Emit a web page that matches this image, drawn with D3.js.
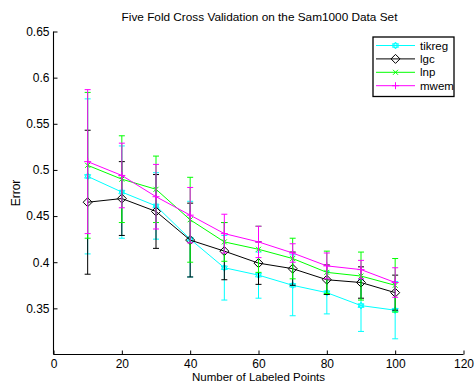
<!DOCTYPE html>
<html>
<head>
<meta charset="utf-8">
<script src="https://cdn.jsdelivr.net/npm/d3@7"></script>
<style>
  html, body { margin: 0; padding: 0; background: #fff; }
  text { font-family: "Liberation Sans", Arial, sans-serif; fill: #000; }
</style>
</head>
<body>
<svg id="chart" width="476" height="386"></svg>
<script>
// Labeled-point counts along the x axis
const labeledPoints = [10, 20, 30, 40, 50, 60, 70, 80, 90, 100];

// Mean error and error-bar half width for each method
const tikregMean = [0.493, 0.476, 0.461, 0.425, 0.394, 0.386, 0.375, 0.367, 0.353, 0.348];
const tikregErr  = [0.084, 0.050, 0.036, 0.041, 0.035, 0.025, 0.033, 0.023, 0.028, 0.031];
const lgcMean    = [0.465, 0.469, 0.455, 0.424, 0.412, 0.399, 0.393, 0.381, 0.378, 0.367];
const lgcErr     = [0.078, 0.040, 0.040, 0.040, 0.031, 0.023, 0.018, 0.016, 0.017, 0.019];
const lnpMean    = [0.505, 0.490, 0.479, 0.446, 0.422, 0.414, 0.404, 0.389, 0.385, 0.375];
const lnpErr     = [0.079, 0.047, 0.036, 0.046, 0.021, 0.025, 0.022, 0.023, 0.026, 0.029];
const mwemMean   = [0.509, 0.494, 0.471, 0.451, 0.431, 0.422, 0.410, 0.396, 0.392, 0.378];
const mwemErr    = [0.078, 0.035, 0.035, 0.030, 0.021, 0.017, 0.010, 0.014, 0.010, 0.016];

const seriesNames = ["tikreg", "lgc", "lnp", "mwem"];
const xTicks = [0, 20, 40, 60, 80, 100, 120];
const yTicks = [0.35, 0.4, 0.45, 0.5, 0.55, 0.6, 0.65];

const chartTitle = "Five Fold Cross Validation on the Sam1000 Data Set";
const xLabel = "Number of Labeled Points";
const yLabel = "Error";

const series = [
  { name: seriesNames[0], mean: tikregMean, err: tikregErr, color: "#00ffff", marker: "hexagram" },
  { name: seriesNames[1], mean: lgcMean,    err: lgcErr,    color: "#000000", marker: "diamond" },
  { name: seriesNames[2], mean: lnpMean,    err: lnpErr,    color: "#00ff00", marker: "cross" },
  { name: seriesNames[3], mean: mwemMean,   err: mwemErr,   color: "#ff00ff", marker: "plus" }
];

const svg = d3.select("#chart");
const plotLeft = 53.5, plotRight = 463.5, plotTop = 31.5, plotBottom = 354.5;

const x = d3.scaleLinear().domain([0, 120]).range([plotLeft, plotRight]);
const y = d3.scaleLinear().domain([0.3, 0.65]).range([plotBottom, plotTop]);

// Title
svg.append("text")
  .attr("x", 259.5)
  .attr("y", 21)
  .attr("text-anchor", "middle")
  .style("font-size", "11.8px")
  .text(chartTitle);

// Axes with inward ticks
const xAxis = d3.axisBottom(x).tickValues(xTicks).tickSize(-4).tickPadding(4.5).tickFormat(d3.format("d"));
const yAxis = d3.axisLeft(y).tickValues(yTicks).tickSize(-4).tickPadding(4).tickFormat(d => d3.format(".2~f")(d));

const gx = svg.append("g").attr("transform", `translate(0,${plotBottom})`).call(xAxis);
const gy = svg.append("g").attr("transform", `translate(${plotLeft},0)`).call(yAxis);
[gx, gy].forEach(g => {
  g.select(".domain").attr("stroke", "#000").attr("stroke-width", 1.1);
  g.selectAll(".tick line").attr("stroke", "#000");
  g.selectAll(".tick text").style("font-size", "12px").style("font-family", "Liberation Sans, Arial, sans-serif");
});
// plain domain lines without end stubs
gx.select(".domain").attr("d", `M${plotLeft},0H${plotRight}`);
gy.select(".domain").attr("d", `M0,${plotBottom}V${plotTop}`);

// Axis labels
svg.append("text")
  .attr("x", 258.5)
  .attr("y", 381)
  .attr("text-anchor", "middle")
  .style("font-size", "11.5px")
  .text(xLabel);

svg.append("text")
  .attr("transform", `translate(19.5,${(plotTop + plotBottom) / 2}) rotate(-90)`)
  .attr("text-anchor", "middle")
  .style("font-size", "12px")
  .text(yLabel);

// Marker path generators
function markerPath(type) {
  switch (type) {
    case "diamond": return "M0,-4.5L4.5,0L0,4.5L-4.5,0Z";
    case "cross": return "M-2.5,-2.5L2.5,2.5M-2.5,2.5L2.5,-2.5";
    case "plus": return "M-3.5,0H3.5M0,-3.5V3.5";
    case "hexagram": {
      const r = 3.5, pts1 = [], pts2 = [];
      for (let i = 0; i < 3; i++) {
        const a1 = -Math.PI / 2 + i * 2 * Math.PI / 3;
        const a2 = Math.PI / 2 + i * 2 * Math.PI / 3;
        pts1.push([r * Math.cos(a1), r * Math.sin(a1)]);
        pts2.push([r * Math.cos(a2), r * Math.sin(a2)]);
      }
      const tri = p => "M" + p.map(q => q[0].toFixed(2) + "," + q[1].toFixed(2)).join("L") + "Z";
      return tri(pts1) + tri(pts2);
    }
  }
}

const line = d3.line().x(d => x(d.x)).y(d => y(d.m));

series.forEach(s => {
  const pts = labeledPoints.map((v, i) => ({ x: v, m: s.mean[i], e: s.err[i] }));
  const g = svg.append("g");

  // Error bars
  const eb = g.selectAll(".eb").data(pts).enter().append("g");
  eb.append("line")
    .attr("x1", d => x(d.x)).attr("x2", d => x(d.x))
    .attr("y1", d => y(d.m - d.e)).attr("y2", d => y(d.m + d.e))
    .attr("stroke", s.color).attr("stroke-width", 1);
  [-1, 1].forEach(sign => {
    eb.append("line")
      .attr("x1", d => x(d.x) - 3).attr("x2", d => x(d.x) + 3)
      .attr("y1", d => y(d.m + sign * d.e)).attr("y2", d => y(d.m + sign * d.e))
      .attr("stroke", s.color).attr("stroke-width", 1);
  });

  // Connecting line
  g.append("path").datum(pts)
    .attr("d", line)
    .attr("fill", "none")
    .attr("stroke", s.color)
    .attr("stroke-width", 1);

  // Markers
  g.selectAll(".mk").data(pts).enter().append("path")
    .attr("transform", d => `translate(${x(d.x)},${y(d.m)})`)
    .attr("d", markerPath(s.marker))
    .attr("fill", "none")
    .attr("stroke", s.color)
    .attr("stroke-width", 1);
});

// Legend
const lg = svg.append("g");
lg.append("rect")
  .attr("x", 373).attr("y", 37).attr("width", 81).attr("height", 59.5)
  .attr("fill", "#fff").attr("stroke", "#000").attr("stroke-width", 1.3);
series.forEach((s, i) => {
  const ry = 45.5 + i * 13.4;
  lg.append("line").attr("x1", 376).attr("x2", 415).attr("y1", ry).attr("y2", ry)
    .attr("stroke", s.color).attr("stroke-width", 1);
  lg.append("path").attr("transform", `translate(395.5,${ry})`)
    .attr("d", markerPath(s.marker))
    .attr("fill", "none").attr("stroke", s.color).attr("stroke-width", 1);
  lg.append("text").attr("x", 420).attr("y", ry + 4)
    .style("font-size", "11.5px")
    .text(s.name);
});
</script>
</body>
</html>
